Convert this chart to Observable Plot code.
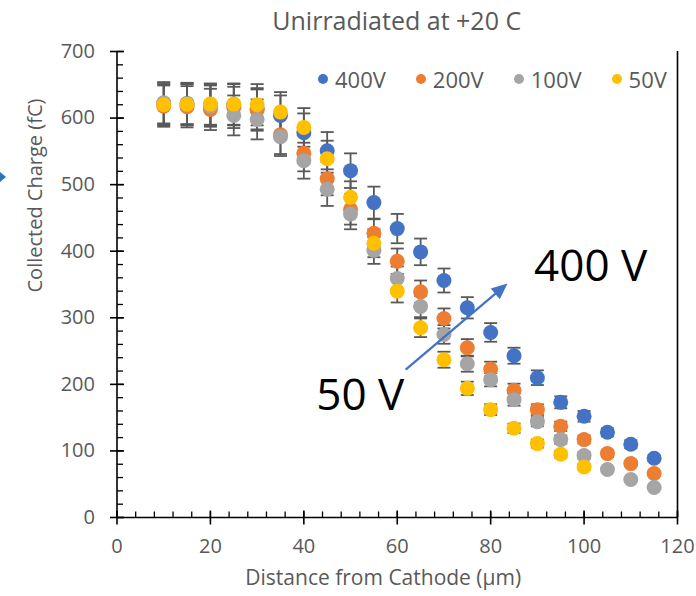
<!DOCTYPE html>
<html>
<head>
<meta charset="utf-8">
<script src="https://cdn.jsdelivr.net/npm/d3@7"></script>
<script src="https://cdn.jsdelivr.net/npm/@observablehq/plot@0.6"></script>
<style>
  html, body { margin: 0; padding: 0; background: #fff; }
  #wrap { position: relative; width: 696px; height: 596px; font-family: "Open Sans", sans-serif; }
  #chart { position: absolute; top: 0; left: 0; }
  #title { position: absolute; top: 0; left: 116.5px; width: 560.5px; height: 40px; line-height: 40px;
           text-align: center; font-size: 25px; color: #595959; }
  #legend { position: absolute; top: 64px; left: 318px; display: flex; gap: 30px; font-size: 22px; color: #595959; }
  .item { display: flex; align-items: center; gap: 7px; line-height: 30px; }
  .sw { width: 10px; height: 10px; border-radius: 50%; display: inline-block; }
  #edge { position: absolute; left: 0; top: 172px; width: 0; height: 0;
          border-top: 5px solid transparent; border-bottom: 5px solid transparent; border-left: 6px solid #2E75B6; }
</style>
</head>
<body>
<div id="wrap">
  <div id="chart"></div>
  <div id="title"></div>
  <div id="legend"></div>
  <div id="edge"></div>
</div>
<script>
// ---------- data ----------
const title = "Unirradiated at +20 C";
const xLabel = "Distance from Cathode (µm)";
const yLabel = "Collected Charge (fC)";
const xTicks = [0, 20, 40, 60, 80, 100, 120];
const yTicks = [0, 100, 200, 300, 400, 500, 600, 700];
const xMinorTicks = d3.range(0, 121, 4);
const yMinorTicks = d3.range(0, 701, 20);

const seriesNames = ["400V", "200V", "100V", "50V"];
const seriesColors = ["#4472C4", "#ED7D31", "#A5A5A5", "#FFC000"];

const distance = [10, 15, 20, 25, 30, 35, 40, 45, 50, 55, 60, 65, 70, 75, 80, 85, 90, 95, 100, 105, 110, 115];

const charge400 = [622, 622, 620, 620, 614, 604, 578, 551, 521, 473, 434, 399, 356, 315, 278, 243, 210, 173, 152, 128, 110, 89];
const err400    = [31, 31, 31, 31, 31, 30, 29, 28, 26, 24, 22, 20, 18, 16, 14, 12, 11, 9, 8, 6, 6, 4];
const charge200 = [618, 617, 613, 616, 612, 575, 547, 509, 463, 427, 385, 339, 299, 255, 223, 191, 162, 137, 117, 96, 81, 66];
const err200    = [31, 31, 31, 31, 31, 29, 27, 25, 23, 21, 19, 17, 15, 13, 11, 10, 8, 7, 6, 5, 4, 3];
const charge100 = [623, 620, 618, 604, 598, 572, 536, 493, 456, 401, 359, 317, 275, 231, 207, 177, 144, 117, 93, 72, 57, 45];
const err100    = [31, 31, 31, 30, 30, 29, 27, 25, 23, 20, 18, 16, 14, 12, 10, 9, 7, 6, 5, 4, 3, 2];
const charge50  = [620, 621, 621, 621, 620, 609, 586, 539, 481, 412, 340, 285, 237, 194, 162, 134, 111, 95, 76];
const err50     = [31, 31, 31, 31, 31, 30, 29, 27, 24, 21, 17, 14, 12, 10, 8, 7, 6, 5, 4];

const annotationLabels = ["400 V", "50 V"];
const annotationX = [101.4, 52.1];
const annotationY = [356, 162];
const arrowFrom = {x: 61.8, y: 222};
const arrowTo = {x: 83.6, y: 351.5};

// ---------- build ----------
const chargeSets = [charge400, charge200, charge100, charge50];
const errSets = [err400, err200, err100, err50];
const rows = [];
seriesNames.forEach((name, s) => {
  chargeSets[s].forEach((v, i) => {
    rows.push({series: name, color: seriesColors[s], x: distance[i], y: v, e: errSets[s][i]});
  });
});
const annotations = annotationLabels.map((t, i) => ({text: t, x: annotationX[i], y: annotationY[i]}));

const W = 696, H = 596, mL = 116.5, mR = 19, mT = 51, mB = 79;
const kx = (W - mL - mR) / 120, ky = (H - mT - mB) / 700;
const pdx = (arrowTo.x - arrowFrom.x) * kx, pdy = -(arrowTo.y - arrowFrom.y) * ky;
const plen = Math.hypot(pdx, pdy);
const headAngle = Math.atan2(pdx, -pdy) * 180 / Math.PI;
const back = 8;
const lineEnd = {x: arrowTo.x - (pdx / plen) * back / kx, y: arrowTo.y + (pdy / plen) * back / ky};

const sym = (f) => ({draw(ctx) { f(ctx); }});
const capSym = sym(c => { c.moveTo(-6.5, 0); c.lineTo(6.5, 0); });
const yMajorSym = sym(c => { c.moveTo(-7, 0); c.lineTo(7, 0); });
const yMinorSym = sym(c => { c.moveTo(0, 0); c.lineTo(6, 0); });
const xMajorSym = sym(c => { c.moveTo(0, -7); c.lineTo(0, 7); });
const xMinorSym = sym(c => { c.moveTo(0, -6); c.lineTo(0, 0); });
const headSym = sym(c => { c.moveTo(0, 0); c.lineTo(-7, 16); c.lineTo(7, 16); c.closePath(); });

const errColor = "#595959";

const chart = Plot.plot({
  width: W, height: H,
  marginLeft: mL, marginRight: mR, marginTop: mT, marginBottom: mB,
  x: {domain: [0, 120]},
  y: {domain: [0, 700]},
  color: {type: "identity"},
  style: {fontFamily: "'Open Sans', sans-serif", fontSize: "20px", background: "white", overflow: "visible"},
  marks: [
    // error bars
    Plot.ruleX(rows, {x: "x", y1: d => d.y - d.e, y2: d => d.y + d.e, stroke: errColor, strokeWidth: 1.8}),
    Plot.dot(rows, {x: "x", y: d => d.y + d.e, symbol: capSym, stroke: errColor, strokeWidth: 1.8, fill: "none"}),
    Plot.dot(rows, {x: "x", y: d => d.y - d.e, symbol: capSym, stroke: errColor, strokeWidth: 1.8, fill: "none"}),
    // points
    Plot.dot(rows, {x: "x", y: "y", r: 7.5, fill: "color", stroke: "none"}),
    // axis lines and frame edge
    Plot.ruleX([0], {stroke: "black", strokeWidth: 1.6}),
    Plot.ruleX([120], {stroke: "black", strokeWidth: 1.6}),
    Plot.ruleY([0], {stroke: "black", strokeWidth: 1.6}),
    // ticks
    Plot.dot(yMinorTicks, {y: d => d, frameAnchor: "left", symbol: yMinorSym, stroke: "black", strokeWidth: 1.3, fill: "none"}),
    Plot.dot(yTicks, {y: d => d, frameAnchor: "left", symbol: yMajorSym, stroke: "black", strokeWidth: 1.6, fill: "none"}),
    Plot.dot(xMinorTicks, {x: d => d, frameAnchor: "bottom", symbol: xMinorSym, stroke: "black", strokeWidth: 1.3, fill: "none"}),
    Plot.dot(xTicks, {x: d => d, frameAnchor: "bottom", symbol: xMajorSym, stroke: "black", strokeWidth: 1.6, fill: "none"}),
    // tick labels
    Plot.axisY({ticks: yTicks, tickSize: 0, tickPadding: 22, label: null, color: "#595959", fontSize: 20}),
    Plot.axisX({ticks: xTicks, tickSize: 0, tickPadding: 21, label: null, color: "#595959", fontSize: 20}),
    // axis titles
    Plot.text([xLabel], {text: d => d, frameAnchor: "bottom", dx: -14, dy: 67, fill: "#595959", fontSize: 21}),
    Plot.text([yLabel], {text: d => d, frameAnchor: "left", rotate: -90, dx: -81, dy: 8, fill: "#595959", fontSize: 20}),
    // annotation arrow
    Plot.link([arrowFrom], {x1: "x", y1: "y", x2: () => lineEnd.x, y2: () => lineEnd.y, stroke: "#4472C4", strokeWidth: 2.25}),
    Plot.dot([arrowTo], {x: "x", y: "y", symbol: headSym, rotate: headAngle, fill: "#4472C4", stroke: "none"}),
    // annotation labels
    Plot.text(annotations, {x: "x", y: "y", text: "text", fontSize: 44, lineAnchor: "bottom", textAnchor: "middle", fill: "black"})
  ]
});

document.getElementById("title").textContent = title;
document.getElementById("chart").appendChild(chart);
const legend = document.getElementById("legend");
seriesNames.forEach((name, s) => {
  const item = document.createElement("div");
  item.className = "item";
  const sw = document.createElement("span");
  sw.className = "sw";
  sw.style.background = seriesColors[s];
  const t = document.createElement("span");
  t.textContent = name;
  item.appendChild(sw);
  item.appendChild(t);
  legend.appendChild(item);
});
</script>
</body>
</html>
